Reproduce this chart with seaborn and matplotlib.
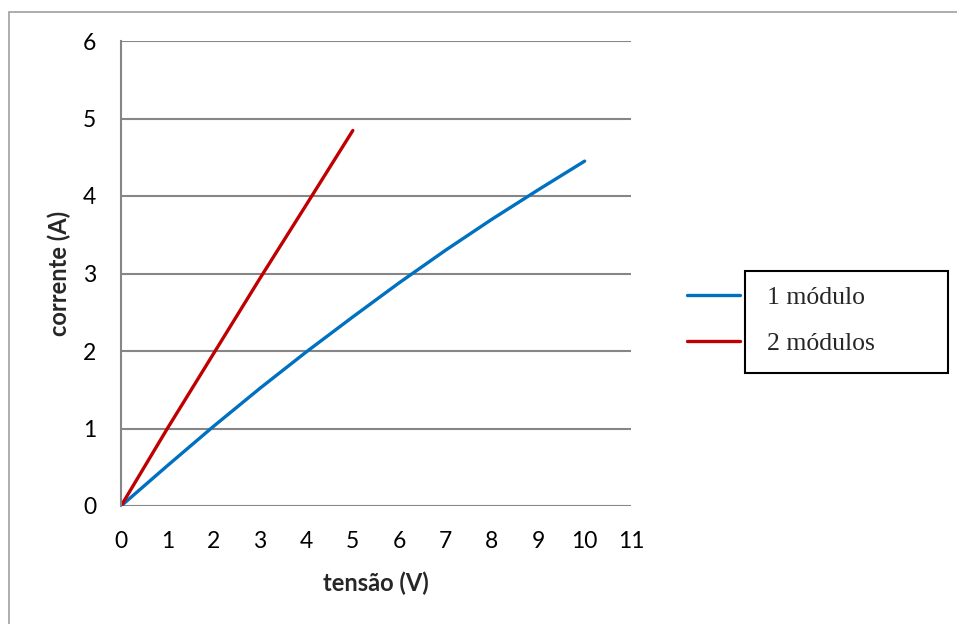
import matplotlib
matplotlib.use("Agg")
import matplotlib.pyplot as plt
import seaborn as sns
import pandas as pd
from matplotlib.patches import Rectangle

# Data
tensao_1 = [0, 1, 2, 3, 4, 5, 6, 7, 8, 9, 10]
corrente_1 = [0, 0.52, 1.03, 1.52, 1.99, 2.44, 2.88, 3.30, 3.70, 4.08, 4.45]
tensao_2 = [0, 1, 2, 3, 4, 5]
corrente_2 = [0, 1.00, 1.97, 2.94, 3.89, 4.845]
series_names = ["1 módulo", "2 módulos"]
x_ticks = list(range(0, 12))
y_ticks = list(range(0, 7))

df = pd.concat([
    pd.DataFrame({"tensao": tensao_1, "corrente": corrente_1, "serie": series_names[0]}),
    pd.DataFrame({"tensao": tensao_2, "corrente": corrente_2, "serie": series_names[1]}),
], ignore_index=True)

sns.set_theme(style="white")
plt.rcParams["font.family"] = ["Lato", "DejaVu Sans"]

W, H = 957, 624
fig = plt.figure(figsize=(W / 100, H / 100), dpi=100)
ax = fig.add_axes([121 / W, 1 - 506 / H, (631 - 121) / W, (506 - 41) / H])

sns.lineplot(data=df, x="tensao", y="corrente", hue="serie",
             palette={series_names[0]: "#0070C0", series_names[1]: "#C00000"},
             linewidth=2.4, ax=ax, legend=True, sort=True)

ax.set_xlim(0, 11)
ax.set_ylim(0, 6)
ax.set_xticks(x_ticks)
ax.set_yticks(y_ticks)
ax.tick_params(axis="both", length=0, labelsize=16.5, colors="black")
ax.tick_params(axis="x", pad=18)
ax.tick_params(axis="y", pad=18)

ax.grid(False)
for y in y_ticks:
    ax.axhline(y, color="#868686", linewidth=1.5, zorder=0.5)
for s in ["top", "right", "bottom"]:
    ax.spines[s].set_visible(False)
ax.spines["left"].set_color("#868686")
ax.spines["left"].set_linewidth(1.5)

ax.set_xlabel("tensão (V)", fontsize=17, fontweight="bold", labelpad=14)
ax.set_ylabel("corrente (A)", fontsize=17, fontweight="bold", labelpad=8)

# Legend (lines outside box, as in the reference)
handles, labels = ax.get_legend_handles_labels()
ax.legend(handles, labels, loc="center left",
          bbox_to_anchor=(687 / W, 1 - 320.5 / H), bbox_transform=fig.transFigure,
          frameon=False, borderpad=0, borderaxespad=0,
          handlelength=2.05, handletextpad=1.05, labelspacing=0.9,
          prop={"family": "Liberation Serif", "size": 18.5})

fig.patches.append(Rectangle((745 / W, 1 - 373 / H), (947.5 - 745) / W, (373 - 270.6) / H,
                             transform=fig.transFigure, fill=False,
                             edgecolor="black", linewidth=1.5))
# Outer chart border
fig.patches.append(Rectangle((9 / W, -0.05), 1.2, 1 - 12 / H + 0.05,
                             transform=fig.transFigure, fill=False,
                             edgecolor="#A0A0A0", linewidth=1.2))

fig.savefig("out.png", dpi=100)
